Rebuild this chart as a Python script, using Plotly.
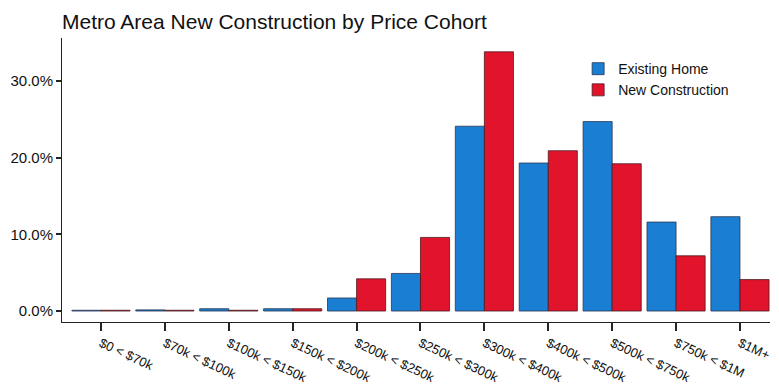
import plotly.graph_objects as go

categories = ["$0 < $70k", "$70k < $100k", "$100k < $150k", "$150k < $200k",
              "$200k < $250k", "$250k < $300k", "$300k < $400k", "$400k < $500k",
              "$500k < $750k", "$750k < $1M", "$1M+"]
existing_home = [0.1, 0.15, 0.3, 0.3, 1.7, 4.9, 24.1, 19.3, 24.7, 11.6, 12.3]
new_construction = [0.1, 0.1, 0.1, 0.3, 4.2, 9.6, 33.8, 20.9, 19.2, 7.2, 4.1]
y_ticks = [0, 10, 20, 30]
y_tick_labels = ["0.0%", "10.0%", "20.0%", "30.0%"]

FONT = "Liberation Sans, Arial, sans-serif"

fig = go.Figure()
fig.add_trace(go.Bar(x=categories, y=existing_home, name="Existing Home",
                     marker=dict(color="#1a7fd2", line=dict(color="#2a3550", width=0.8))))
fig.add_trace(go.Bar(x=categories, y=new_construction, name="New Construction",
                     marker=dict(color="#e2142c", line=dict(color="#4a1a20", width=0.8))))

fig.update_layout(
    width=779, height=388,
    margin=dict(l=62, r=9, t=38, b=66, autoexpand=False),
    paper_bgcolor="white", plot_bgcolor="white",
    barmode="group", bargap=0.09, bargroupgap=0,
    font=dict(family=FONT, size=13, color="#111"),
    title=dict(text="Metro Area New Construction by Price Cohort", x=62/779, xref="container",
               xanchor="left", y=1 - 22/388, yanchor="middle", yref="container",
               font=dict(size=21, family=FONT, color="#111")),
    legend=dict(x=0.729, y=0.947, xanchor="left", yanchor="top",
                bgcolor="rgba(0,0,0,0)", font=dict(size=14, family=FONT),
                tracegroupgap=0, itemwidth=30),
    showlegend=True,
)
fig.update_xaxes(type="category", range=[-0.61, 10.47], showline=True, linecolor="#222",
                 linewidth=1, ticks="outside", ticklen=8, tickcolor="#222", tickwidth=2,
                 tickangle=25, tickfont=dict(size=13), showgrid=False, zeroline=False,
                 automargin=False)
fig.update_yaxes(range=[-1.43, 35.6], showline=True, linecolor="#222", linewidth=1,
                 ticks="outside", ticklen=5, tickcolor="#222", tickwidth=2,
                 tickvals=y_ticks, ticktext=y_tick_labels, showgrid=False, zeroline=False,
                 tickfont=dict(size=15), automargin=False)

fig.write_html("out.html", config={"displayModeBar": False},
               post_script="document.body.style.margin='0';document.body.style.overflow='hidden';")
